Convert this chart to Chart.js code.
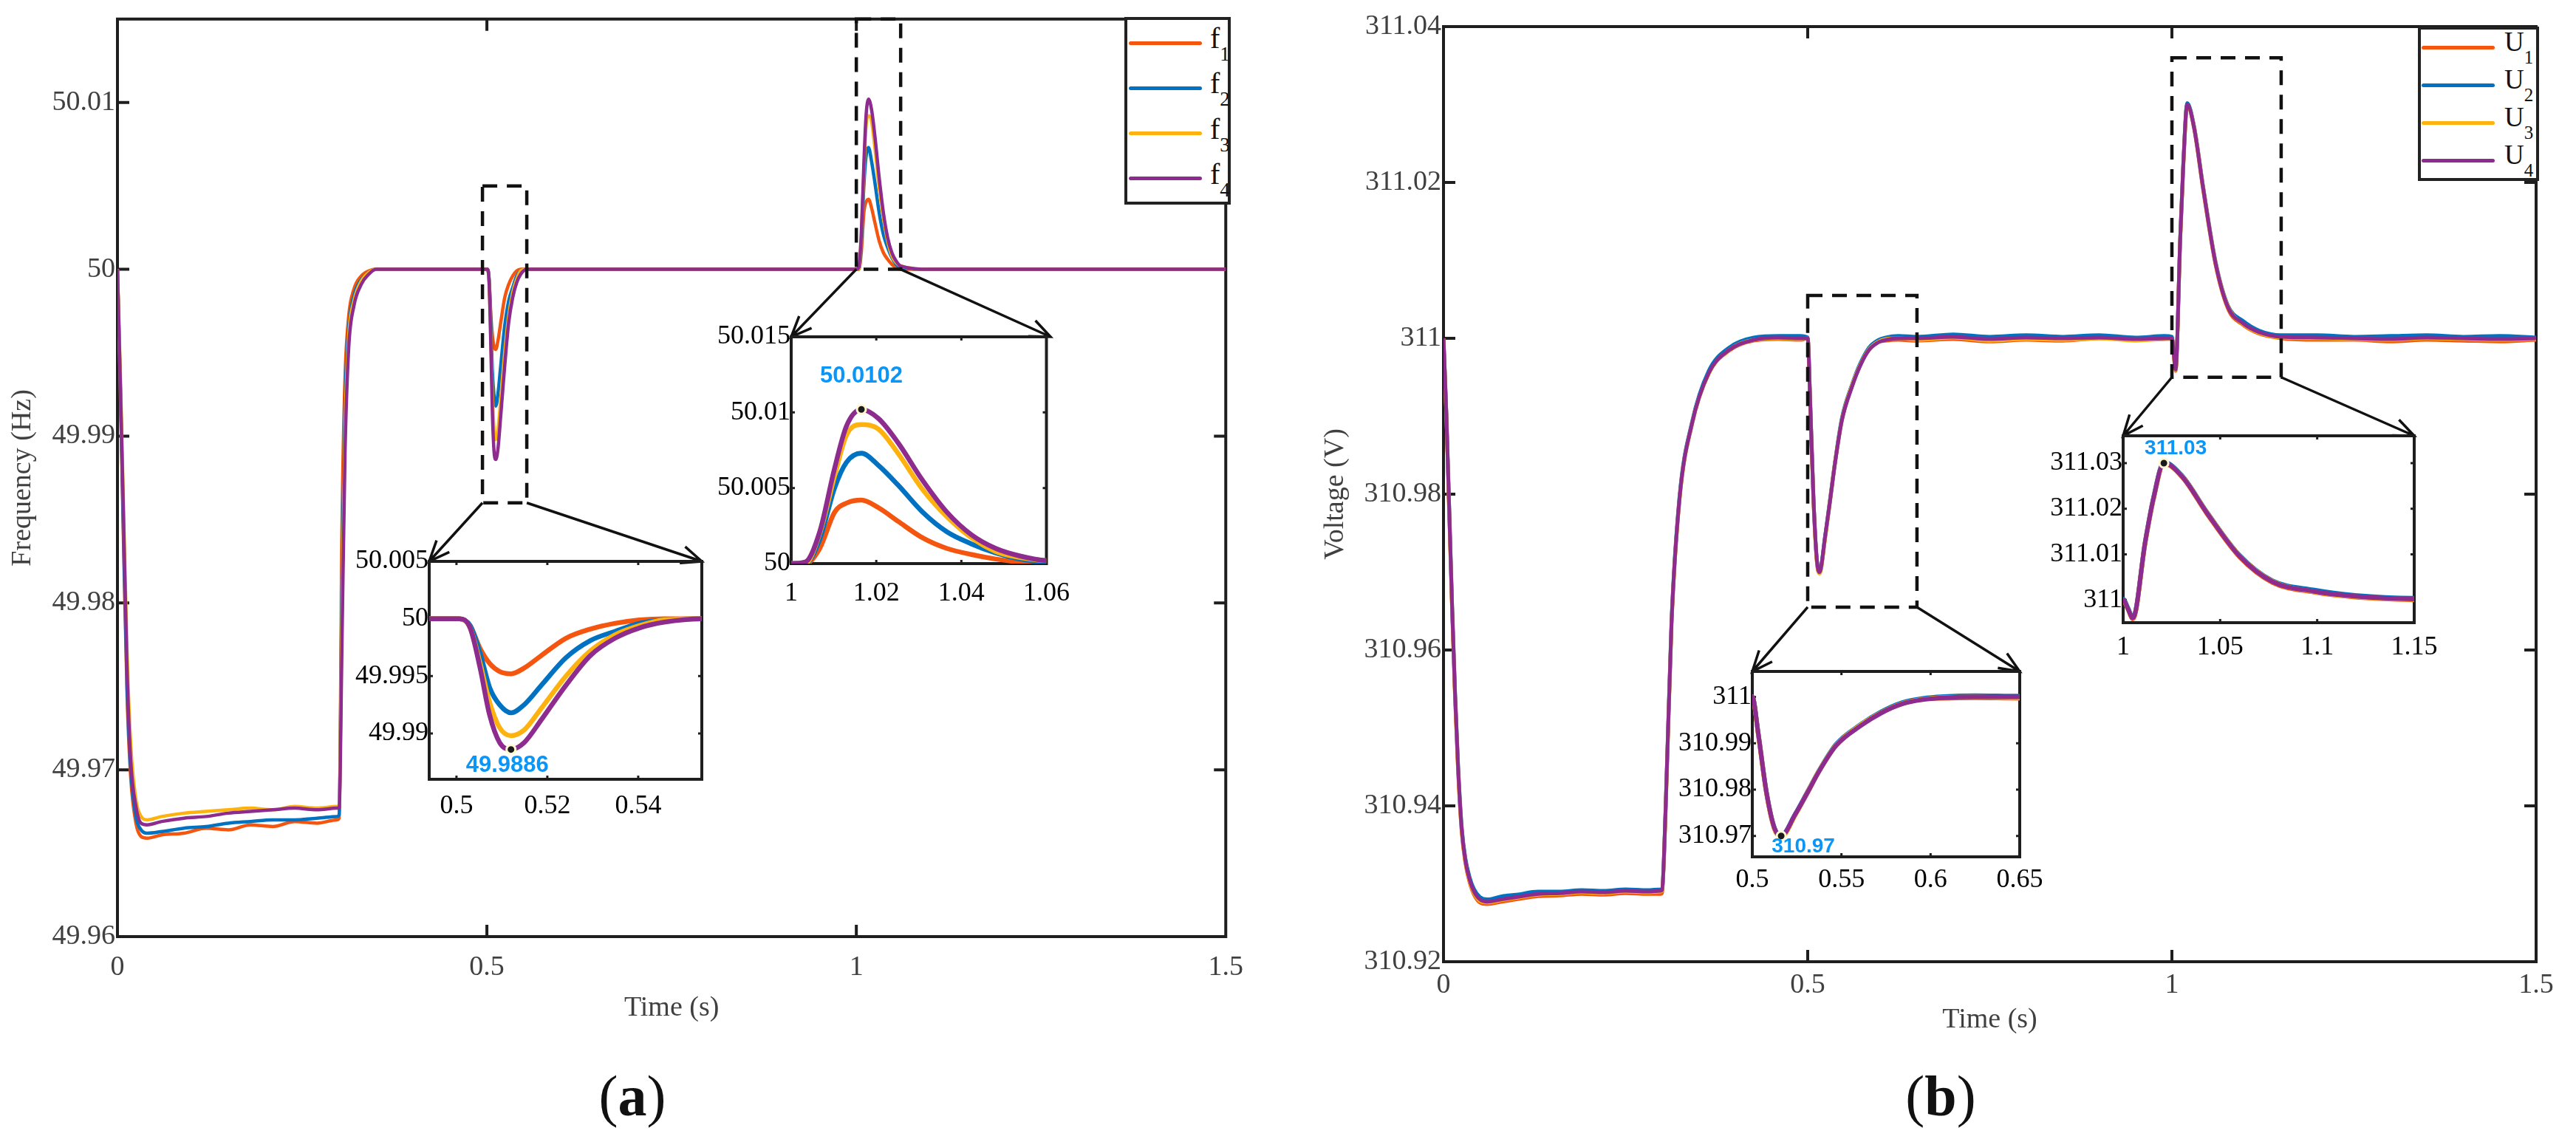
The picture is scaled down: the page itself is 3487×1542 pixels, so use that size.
<!DOCTYPE html>
<html>
<head>
<meta charset="utf-8">
<script src="https://cdn.jsdelivr.net/npm/chart.js@4.4.1/dist/chart.umd.min.js"></script>
<style>
  html, body { margin: 0; padding: 0; background: #fff; }
  body { position: relative; width: 3487px; height: 1542px; overflow: hidden; font-family: "Liberation Serif", "Times New Roman", serif; }
  canvas { position: absolute; }
  .legend { position: absolute; box-sizing: border-box; border: 4px solid #222; background: #fff; }
  .legend .sw { position: absolute; height: 5px; border-radius: 3px; }
  .legend .lab { position: absolute; color: #111; line-height: 1; white-space: nowrap; }
  .legend .lab sub { vertical-align: -17px; line-height: 0; }
  .panel { position: absolute; font-size: 78px; line-height: 1; color: #111; transform: translate(-50%, -50%); }
</style>
</head>
<body>
<div class="panel" style="left:856px;top:1484px">(<b>a</b>)</div>
<div class="panel" style="left:2627px;top:1484px">(<b>b</b>)</div>
<script>
// panel (a): time (s) and frequency of each node (Hz)
const T_A = [0, 0.004, 0.008, 0.013, 0.018, 0.025, 0.032, 0.04, 0.06, 0.09,
  0.12, 0.15, 0.18, 0.21, 0.24, 0.27, 0.297, 0.3, 0.304, 0.308,
  0.313, 0.32, 0.33, 0.34, 0.35, 0.4, 0.45, 0.5, 0.5006, 0.503,
  0.5052, 0.5073, 0.5095, 0.512, 0.5149, 0.5187, 0.5241, 0.5295, 0.5349, 0.5403,
  0.5457, 0.554, 0.6, 0.7, 0.8, 0.9, 1.0, 1.0033, 1.0067, 1.0102,
  1.013, 1.0165, 1.0205, 1.0251, 1.0309, 1.0366, 1.0424, 1.0481, 1.0538, 1.06,
  1.1, 1.2, 1.3, 1.4, 1.5];
const F1 = [50, 49.9925, 49.984, 49.9745, 49.9695, 49.9668, 49.966, 49.9659, 49.9661, 49.9662,
  49.9665, 49.9664, 49.9667, 49.9666, 49.9669, 49.9668, 49.967, 49.9671, 49.985, 49.9935,
  49.9972, 49.9988, 49.9996, 49.9999, 50, 50, 50, 50, 50, 49.9994,
  49.9974, 49.9961, 49.9954, 49.9952, 49.9957, 49.9968, 49.9983, 49.9991, 49.9996, 49.9999,
  50, 50, 50, 50, 50, 50, 50, 50, 50.001, 50.0034,
  50.004, 50.0042, 50.0037, 50.0028, 50.0017, 50.001, 50.0006, 50.0003, 50.0001, 50,
  50, 50, 50, 50, 50];
const F2 = [50, 49.9928, 49.9845, 49.975, 49.97, 49.9672, 49.9664, 49.9662, 49.9663, 49.9665,
  49.9666, 49.9668, 49.9669, 49.967, 49.967, 49.9671, 49.9672, 49.9673, 49.982, 49.992,
  49.9965, 49.9984, 49.9994, 49.9998, 50, 50, 50, 50, 50, 49.9994,
  49.997, 49.994, 49.9925, 49.9918, 49.9925, 49.9942, 49.9966, 49.9981, 49.9989, 49.9996,
  49.9999, 50, 50, 50, 50, 50, 50, 50, 50.0016, 50.005,
  50.0067, 50.0073, 50.0065, 50.0052, 50.0034, 50.0021, 50.0013, 50.0007, 50.0003, 50.0001,
  50, 50, 50, 50, 50];
const F3 = [50, 49.9935, 49.986, 49.977, 49.9715, 49.9682, 49.9672, 49.967, 49.9672, 49.9674,
  49.9675, 49.9676, 49.9677, 49.9676, 49.9678, 49.9677, 49.9678, 49.9678, 49.98, 49.9905,
  49.996, 49.9981, 49.9993, 49.9998, 50, 50, 50, 50, 50, 49.9992,
  49.9961, 49.9927, 49.9905, 49.9898, 49.9903, 49.9922, 49.995, 49.9972, 49.9986, 49.9994,
  49.9999, 50, 50, 50, 50, 50, 50, 50, 50.002, 50.0058,
  50.0085, 50.0092, 50.0089, 50.0073, 50.0049, 50.0031, 50.0017, 50.0008, 50.0004, 50.0002,
  50, 50, 50, 50, 50];
const F4 = [50, 49.993, 49.9855, 49.976, 49.9705, 49.9678, 49.9668, 49.9667, 49.9669, 49.9671,
  49.9672, 49.9674, 49.9675, 49.9676, 49.9677, 49.9676, 49.9677, 49.9677, 49.978, 49.989,
  49.9953, 49.9978, 49.9991, 49.9997, 50, 50, 50, 50, 50, 49.9992,
  49.9957, 49.9916, 49.9892, 49.9886, 49.9892, 49.9912, 49.9942, 49.9968, 49.9983, 49.9992,
  49.9997, 50, 50, 50, 50, 50, 50, 50.0001, 50.0021, 50.0063,
  50.0091, 50.0102, 50.0096, 50.008, 50.0055, 50.0034, 50.0019, 50.001, 50.0005, 50.0002,
  50, 50, 50, 50, 50];

// panel (b): time (s) and voltage of each node (V)
const T_B = [0, 0.004, 0.008, 0.012, 0.016, 0.02, 0.025, 0.03, 0.036, 0.042,
  0.05, 0.06, 0.08, 0.1, 0.13, 0.16, 0.19, 0.22, 0.25, 0.28,
  0.298, 0.3, 0.305, 0.313, 0.324, 0.341, 0.364, 0.392, 0.426, 0.46,
  0.49, 0.5, 0.5033, 0.5079, 0.5125, 0.5162, 0.524, 0.531, 0.5377, 0.547,
  0.5609, 0.5722, 0.5841, 0.5955, 0.6072, 0.625, 0.65, 0.7, 0.75, 0.8,
  0.85, 0.9, 0.95, 0.99, 1.0, 1.0025, 1.005, 1.0114, 1.0156, 1.021,
  1.0305, 1.043, 1.06, 1.077, 1.098, 1.1196, 1.15, 1.2, 1.25, 1.3,
  1.35, 1.4, 1.45, 1.5];
const U1 = [311, 310.9898, 310.977, 310.9645, 310.9535, 310.9445, 310.9366, 310.9327, 310.9301, 310.9286,
  310.9276, 310.9274, 310.9277, 310.928, 310.9284, 310.9285, 310.9287, 310.9286, 310.9288, 310.9287,
  310.9287, 310.9288, 310.9395, 310.9632, 310.9793, 310.9889, 310.9955, 310.9984, 310.9997, 310.9999,
  310.9998, 311, 310.992, 310.9793, 310.9714, 310.9699, 310.9745, 310.9793, 310.9841, 310.9895,
  310.9939, 310.9966, 310.9985, 310.9995, 310.9997, 310.9998, 310.9997, 310.9999, 310.9996, 310.9998,
  310.9997, 311, 310.9998, 310.9999, 311, 310.998, 310.9958, 311.0126, 311.022, 311.0299,
  311.0269, 311.019, 311.0094, 311.0038, 311.0017, 311.0006, 311, 310.9998, 310.9998, 310.9996,
  310.9998, 310.9997, 310.9996, 310.9998];
const U2 = [311, 310.9902, 310.9778, 310.9652, 310.9543, 310.9453, 310.9373, 310.9333, 310.9308, 310.9293,
  310.9283, 310.928, 310.9284, 310.9286, 310.929, 310.929, 310.9292, 310.9291, 310.9293, 310.9292,
  310.9293, 310.9293, 310.94, 310.9637, 310.9797, 310.9892, 310.9958, 310.9988, 311.0001, 311.0003,
  311.0003, 311.0001, 310.9923, 310.9796, 310.9717, 310.9701, 310.9747, 310.9796, 310.9843, 310.9898,
  310.9941, 310.9968, 310.9988, 310.9997, 311.0001, 311.0003, 311.0002, 311.0005, 311.0002, 311.0004,
  311.0002, 311.0004, 311.0001, 311.0003, 311.0002, 310.9982, 310.9961, 311.0129, 311.0224, 311.0302,
  311.0272, 311.0194, 311.0098, 311.0042, 311.0022, 311.001, 311.0004, 311.0004, 311.0002, 311.0003,
  311.0004, 311.0002, 311.0003, 311.0001];
const U3 = [311, 310.99, 310.9773, 310.9648, 310.9538, 310.9448, 310.9368, 310.9329, 310.9303, 310.9288,
  310.9278, 310.9276, 310.9279, 310.9282, 310.9286, 310.9287, 310.9289, 310.9288, 310.929, 310.9289,
  310.929, 310.9291, 310.9396, 310.9633, 310.9793, 310.989, 310.9954, 310.9985, 310.9998, 311,
  310.9999, 311, 310.9921, 310.9794, 310.9714, 310.9698, 310.9744, 310.9795, 310.9842, 310.9896,
  310.994, 310.9966, 310.9986, 310.9995, 310.9999, 311, 310.9998, 311.0001, 310.9997, 310.9999,
  310.9998, 311, 310.9997, 310.9999, 310.9999, 310.9979, 310.9959, 311.0127, 311.0221, 311.0299,
  311.0271, 311.0193, 311.0097, 311.0041, 311.0018, 311.0007, 311.0001, 311, 310.9999, 310.9998,
  311, 310.9999, 310.9998, 310.9999];
const U4 = [311, 310.99, 310.9775, 310.965, 310.954, 310.945, 310.937, 310.933, 310.9305, 310.929,
  310.928, 310.9277, 310.928, 310.9283, 310.9287, 310.9288, 310.929, 310.9289, 310.9291, 310.929,
  310.9291, 310.9292, 310.9398, 310.9634, 310.9794, 310.989, 310.9955, 310.9985, 310.9998, 311.0001,
  311, 311, 310.9922, 310.9795, 310.9716, 310.97, 310.9746, 310.9794, 310.9841, 310.9895,
  310.9938, 310.9965, 310.9985, 310.9994, 310.9998, 311, 311, 311.0002, 310.9999, 311.0001,
  311, 311.0001, 310.9999, 311, 311, 310.998, 310.996, 311.0128, 311.0222, 311.03,
  311.027, 311.0192, 311.0096, 311.004, 311.0019, 311.0008, 311.0002, 311.0001, 311, 310.9999,
  311.0001, 311, 310.9999, 311];

const NAMES_A = ['f1', 'f2', 'f3', 'f4'];
const NAMES_B = ['U1', 'U2', 'U3', 'U4'];
const COLORS = ['#F4560F', '#0072C1', '#FDB20F', '#8D2C8E'];

const A_XTICKS = [0, 0.5, 1, 1.5];
const A_YTICKS = [49.96, 49.97, 49.98, 49.99, 50, 50.01];
const B_XTICKS = [0, 0.5, 1, 1.5];
const B_YTICKS = [310.92, 310.94, 310.96, 310.98, 311, 311.02, 311.04];
const A1_XTICKS = [0.5, 0.52, 0.54];
const A1_YTICKS = [49.99, 49.995, 50, 50.005];
const A2_XTICKS = [1, 1.02, 1.04, 1.06];
const A2_YTICKS = [50, 50.005, 50.01, 50.015];
const B1_XTICKS = [0.5, 0.55, 0.6, 0.65];
const B1_YTICKS = [310.97, 310.98, 310.99, 311];
const B2_XTICKS = [1, 1.05, 1.1, 1.15];
const B2_YTICKS = [311, 311.01, 311.02, 311.03];

// zoom windows [xmin, xmax, ymin, ymax]
const ZOOM_A1 = [0.494, 0.554, 49.986, 50.005];
const ZOOM_A2 = [1, 1.06, 50, 50.015];
const ZOOM_B1 = [0.5, 0.65, 310.9655, 311.0055];
const ZOOM_B2 = [1, 1.15, 310.995, 311.036];

// plot boxes on the page [left, top, right, bottom]
const AREA_A = [159, 23, 1662, 1268];
const AREA_B = [1954, 36, 3433, 1302];
const AREA_A1 = [581, 760, 950, 1055];
const AREA_A2 = [1071, 456, 1422, 763];
const AREA_B1 = [2372, 909, 2734, 1160];
const AREA_B2 = [2874, 590, 3268, 843];

const SERIF = '"Liberation Serif", "Times New Roman", serif';
const SANS = '"Liberation Sans", Arial, sans-serif';

function arrow(ctx, x0, y0, x1, y1) {
  const ang = Math.atan2(y1 - y0, x1 - x0), L = 30, w = 0.4;
  ctx.beginPath();
  ctx.moveTo(x0, y0); ctx.lineTo(x1, y1);
  ctx.moveTo(x1 - L * Math.cos(ang - w), y1 - L * Math.sin(ang - w));
  ctx.lineTo(x1, y1);
  ctx.lineTo(x1 - L * Math.cos(ang + w), y1 - L * Math.sin(ang + w));
  ctx.stroke();
}

const decor = {
  id: 'decor',
  beforeDatasetsDraw(chart, args, o) {
    const {ctx, chartArea: a, scales: {x, y}} = chart;
    ctx.save();
    ctx.strokeStyle = '#1e1e1e';
    ctx.lineWidth = o.frame;
    ctx.strokeRect(a.left, a.top, a.right - a.left, a.bottom - a.top);
    ctx.beginPath();
    x.ticks.forEach(tk => {
      const p = x.getPixelForValue(tk.value);
      if (p < a.left + 3 || p > a.right - 3) return;
      ctx.moveTo(p, a.bottom); ctx.lineTo(p, a.bottom - o.tick);
      ctx.moveTo(p, a.top); ctx.lineTo(p, a.top + o.tick);
    });
    y.ticks.forEach(tk => {
      const p = y.getPixelForValue(tk.value);
      if (p < a.top + 3 || p > a.bottom - 3) return;
      ctx.moveTo(a.left, p); ctx.lineTo(a.left + o.tick, p);
      ctx.moveTo(a.right, p); ctx.lineTo(a.right - o.tick, p);
    });
    ctx.lineWidth = o.tickWidth;
    ctx.stroke();
    ctx.restore();
  },
  afterDatasetsDraw(chart, args, o) {
    const {ctx, scales: {x, y}} = chart;
    const ox = chart.canvas.offsetLeft, oy = chart.canvas.offsetTop;
    ctx.save();
    (o.boxes || []).forEach(b => {
      const l = x.getPixelForValue(b.win[0]), r = x.getPixelForValue(b.win[1]);
      const t = y.getPixelForValue(b.win[3]), btm = y.getPixelForValue(b.win[2]);
      ctx.strokeStyle = '#111';
      ctx.lineWidth = 4.5;
      ctx.setLineDash([20, 13]);
      ctx.strokeRect(l, t, r - l, btm - t);
      ctx.setLineDash([]);
      ctx.lineWidth = 3.5;
      arrow(ctx, l, btm, b.to[0] - ox, b.to[1] - oy);
      arrow(ctx, r, btm, b.to[2] - ox, b.to[1] - oy);
    });
    if (o.tip) {
      const meta = chart.getDatasetMeta(chart.data.datasets.length - 1);
      const pt = meta.data[0];
      ctx.font = 'bold ' + o.tip.size + 'px ' + SANS;
      ctx.fillStyle = '#0B96F7';
      ctx.textAlign = 'center';
      ctx.textBaseline = 'middle';
      ctx.fillText(o.tip.text, pt.x + o.tip.dx, pt.y + o.tip.dy);
    }
    ctx.restore();
  }
};
Chart.register(decor);

function axis(min, max, ticks, o) {
  return {
    type: 'linear', min, max,
    afterBuildTicks: s => { s.ticks = ticks.map(v => ({value: v})); },
    afterFit: o.fit,
    grid: {display: false, drawTicks: false},
    border: {display: false},
    ticks: {autoSkip: false, maxRotation: 0, padding: o.pad, color: o.color,
      font: {family: SERIF, size: o.size}, callback: v => String(v)},
    title: o.title ? {display: true, text: o.title, color: o.color,
      font: {family: SERIF, size: 38}, padding: o.titlePad} : {display: false}
  };
}

function makeChart(c) {
  const [l, t, r, b] = c.area;
  const W = r - l + c.padL + c.padR, H = b - t + c.padT + c.padB;
  const cv = document.createElement('canvas');
  cv.width = W; cv.height = H;
  cv.style.left = (l - c.padL) + 'px';
  cv.style.top = (t - c.padT) + 'px';
  cv.style.width = W + 'px';
  cv.style.height = H + 'px';
  document.body.appendChild(cv);

  const datasets = c.series.map((v, i) => ({
    label: c.names[i],
    data: c.time.map((tt, k) => ({x: tt, y: v[k]})),
    borderColor: COLORS[i],
    backgroundColor: COLORS[i],
    borderWidth: c.lw,
    pointRadius: 0,
    cubicInterpolationMode: 'monotone',
    order: 10 - i
  }));
  if (c.tip) {
    datasets.push({
      type: 'scatter',
      data: [{x: c.time[c.tip.idx], y: c.series[3][c.tip.idx]}],
      pointRadius: 6, pointBackgroundColor: '#1a1a1a',
      pointBorderColor: '#FFF8D0', pointBorderWidth: 3, order: 0
    });
  }
  const color = c.inset ? '#000' : '#404040';
  new Chart(cv, {
    type: 'line',
    data: {datasets},
    options: {
      responsive: false, animation: false, devicePixelRatio: 1,
      layout: {padding: {top: c.padT, right: c.padR, left: 0, bottom: 0}},
      plugins: {
        legend: {display: false}, tooltip: {enabled: false},
        decor: {
          frame: 4, tick: c.inset ? 5 : 16, tickWidth: c.inset ? 3 : 4, boxes: c.boxes,
          tip: c.tip ? {text: String(c.series[3][c.tip.idx]), dx: c.tip.dx, dy: c.tip.dy, size: c.tip.size} : null
        }
      },
      scales: {
        x: axis(c.win[0], c.win[1], c.xticks, {pad: c.xpad, color, size: c.inset ? 36 : 38,
          title: c.xtitle, titlePad: {top: 0, bottom: 0}, fit: s => { s.height = c.padB; }}),
        y: axis(c.win[2], c.win[3], c.yticks, {pad: c.inset ? 1 : 3, color, size: c.inset ? 36 : 38,
          title: c.ytitle, titlePad: {top: c.ytitlePad, bottom: 0}, fit: s => { s.width = c.padL; }})
      }
    }
  });
}

function legend(names, box, rows, f) {
  const d = document.createElement('div');
  d.className = 'legend';
  d.style.left = box[0] + 'px'; d.style.top = box[1] + 'px';
  d.style.width = (box[2] - box[0]) + 'px'; d.style.height = (box[3] - box[1]) + 'px';
  names.forEach((n, i) => {
    const cy = rows[0] + i * rows[1] - 4;
    const sw = document.createElement('div');
    sw.className = 'sw';
    sw.style.background = COLORS[i];
    sw.style.left = f.line[0] + 'px'; sw.style.width = f.line[1] + 'px';
    sw.style.top = (cy - 2.5) + 'px';
    d.appendChild(sw);
    const lb = document.createElement('div');
    lb.className = 'lab';
    lb.style.left = f.text + 'px';
    lb.style.top = (cy - 26) + 'px';
    lb.style.fontSize = f.size + 'px';
    lb.innerHTML = n[0] + '<sub style="font-size:' + f.sub + 'px">' + n.slice(1) + '</sub>';
    d.appendChild(lb);
  });
  document.body.appendChild(d);
}

// panel (a)
makeChart({area: AREA_A, padL: 159, padT: 23, padR: 40, padB: 120,
  time: T_A, series: [F1, F2, F3, F4], names: NAMES_A, lw: 4.5,
  win: [0, 1.5, 49.96, 50.015], xticks: A_XTICKS, yticks: A_YTICKS, xpad: 19,
  xtitle: 'Time (s)', ytitle: 'Frequency (Hz)', ytitlePad: 8,
  boxes: [{win: ZOOM_A1, to: [AREA_A1[0], AREA_A1[1], AREA_A1[2]]},
          {win: ZOOM_A2, to: [AREA_A2[0], AREA_A2[1], AREA_A2[2]]}]});
makeChart({area: AREA_A1, inset: true, padL: 130, padT: 26, padR: 45, padB: 70,
  time: T_A, series: [F1, F2, F3, F4], names: NAMES_A, lw: 6.5,
  win: ZOOM_A1, xticks: A1_XTICKS, yticks: A1_YTICKS, xpad: 15,
  tip: {idx: 33, dx: -5, dy: 22, size: 31}});
makeChart({area: AREA_A2, inset: true, padL: 130, padT: 26, padR: 45, padB: 70,
  time: T_A, series: [F1, F2, F3, F4], names: NAMES_A, lw: 6.5,
  win: ZOOM_A2, xticks: A2_XTICKS, yticks: A2_YTICKS, xpad: 19,
  tip: {idx: 51, dx: 0, dy: -45, size: 31}});

// panel (b)
makeChart({area: AREA_B, padL: 176, padT: 36, padR: 50, padB: 102,
  time: T_B, series: [U1, U2, U3, U4], names: NAMES_B, lw: 5,
  win: [0, 1.5, 310.92, 311.04], xticks: B_XTICKS, yticks: B_YTICKS, xpad: 9,
  xtitle: 'Time (s)', ytitle: 'Voltage (V)', ytitlePad: 7,
  boxes: [{win: ZOOM_B1, to: [AREA_B1[0], AREA_B1[1], AREA_B1[2]]},
          {win: ZOOM_B2, to: [AREA_B2[0], AREA_B2[1], AREA_B2[2]]}]});
makeChart({area: AREA_B1, inset: true, padL: 130, padT: 26, padR: 45, padB: 60,
  time: T_B, series: [U1, U2, U3, U4], names: NAMES_B, lw: 6,
  win: ZOOM_B1, xticks: B1_XTICKS, yticks: B1_YTICKS, xpad: 10,
  tip: {idx: 35, dx: 30, dy: 15, size: 28}});
makeChart({area: AREA_B2, inset: true, padL: 130, padT: 26, padR: 45, padB: 60,
  time: T_B, series: [U1, U2, U3, U4], names: NAMES_B, lw: 6,
  win: ZOOM_B2, xticks: B2_XTICKS, yticks: B2_YTICKS, xpad: 12,
  tip: {idx: 59, dx: 16, dy: -20, size: 28}});

legend(NAMES_A, [1522, 23, 1666, 277], [35, 61.3], {line: [2, 99], text: 112, size: 40, sub: 27});
legend(NAMES_B, [3273, 36, 3437, 245], [28, 51], {line: [1, 99], text: 113, size: 37, sub: 25});
</script>
</body>
</html>
